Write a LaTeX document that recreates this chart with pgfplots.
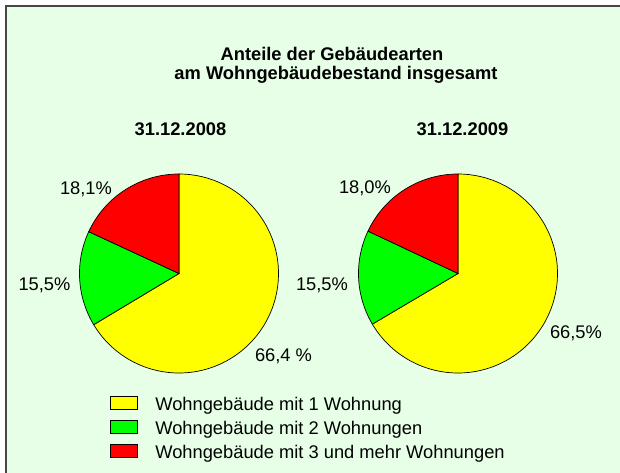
\documentclass[border=0pt]{standalone}
\usepackage{pgfplots}
\pgfplotsset{compat=1.18}
\usepackage{pgfplotstable}
\usepackage{fontspec}
\setmainfont{Liberation Sans}
\definecolor{bg}{RGB}{230,255,230}
\definecolor{frame}{RGB}{70,70,70}
\definecolor{pieY}{RGB}{255,255,0}
\definecolor{pieG}{RGB}{0,255,0}
\definecolor{pieR}{RGB}{255,0,0}

% shares in percent: 1 Wohnung, 2 Wohnungen, 3 und mehr Wohnungen
\pgfplotstableread{
part  y2008 y2009
1     66.4  66.5
2     15.5  15.5
3     18.1  18.0
}\shares

\pgfplotstablegetelem{0}{y2008}\of\shares \let\aY\pgfplotsretval
\pgfplotstablegetelem{1}{y2008}\of\shares \let\aG\pgfplotsretval
\pgfplotstablegetelem{0}{y2009}\of\shares \let\bY\pgfplotsretval
\pgfplotstablegetelem{1}{y2009}\of\shares \let\bG\pgfplotsretval
\pgfmathsetmacro{\aYend}{90-3.6*\aY}
\pgfmathsetmacro{\aGend}{\aYend-3.6*\aG}
\pgfmathsetmacro{\bYend}{90-3.6*\bY}
\pgfmathsetmacro{\bGend}{\bYend-3.6*\bG}

\newcommand{\lbl}{\fontsize{18.3bp}{21bp}\selectfont}
\def\R{99.5}

\begin{document}
\begin{tikzpicture}
\useasboundingbox (0,0) rectangle (620bp,473bp);
\fill[white] (-5bp,-5bp) rectangle (625bp,478bp);
\fill[bg] (6bp,-5bp) rectangle (625bp,467bp);
\draw[frame,line width=1.3bp] (6bp,-5bp) -- (6bp,467bp) -- (625bp,467bp);
\begin{axis}[
  at={(0,0)}, anchor=south west,
  scale only axis, width=620bp, height=473bp,
  xmin=0, xmax=620, ymin=0, ymax=473, y dir=reverse,
  hide axis, clip=false,
  legend cell align=left,
  legend image code/.code={\draw[#1, line width=0.7bp] (0bp,-6.5bp) rectangle (27bp,6.5bp); \path[draw=none,fill=none] (0bp,0bp) (45bp,0bp);},
  legend style={at={(axis cs:110,393)}, anchor=north west, draw=none, fill=none,
    inner sep=0pt, outer sep=0pt, row sep=5bp,
    nodes={inner sep=0pt, text height=17bp, text depth=2bp, font=\lbl}},
]
% pie 2008
\addplot[fill=pieY, draw=black, line width=0.7bp, domain=\aYend:90, samples=150, forget plot]
  ({179+\R*cos(x)},{273.5-\R*sin(x)}) -- (axis cs:179,273.5) -- cycle;
\addplot[fill=pieG, draw=black, line width=0.7bp, domain=\aGend:\aYend, samples=60, forget plot]
  ({179+\R*cos(x)},{273.5-\R*sin(x)}) -- (axis cs:179,273.5) -- cycle;
\addplot[fill=pieR, draw=black, line width=0.7bp, domain=-270:\aGend, samples=60, forget plot]
  ({179+\R*cos(x)},{273.5-\R*sin(x)}) -- (axis cs:179,273.5) -- cycle;
% pie 2009
\addplot[fill=pieY, draw=black, line width=0.7bp, domain=\bYend:90, samples=150, forget plot]
  ({458+\R*cos(x)},{273.5-\R*sin(x)}) -- (axis cs:458,273.5) -- cycle;
\addplot[fill=pieG, draw=black, line width=0.7bp, domain=\bGend:\bYend, samples=60, forget plot]
  ({458+\R*cos(x)},{273.5-\R*sin(x)}) -- (axis cs:458,273.5) -- cycle;
\addplot[fill=pieR, draw=black, line width=0.7bp, domain=-270:\bGend, samples=60, forget plot]
  ({458+\R*cos(x)},{273.5-\R*sin(x)}) -- (axis cs:458,273.5) -- cycle;

\addlegendimage{fill=pieY}
\addlegendentry{Wohngebäude mit 1 Wohnung}
\addlegendimage{fill=pieG}
\addlegendentry{Wohngebäude mit 2 Wohnungen}
\addlegendimage{fill=pieR}
\addlegendentry{Wohngebäude mit 3 und mehr Wohnungen}

% titles
\node[anchor=base, font=\bfseries\lbl] at (axis cs:332,60.7) {Anteile der Gebäudearten};
\node[anchor=base, font=\bfseries\lbl] at (axis cs:336,79.3) {am Wohngebäudebestand insgesamt};
\node[anchor=base, font=\bfseries\lbl] at (axis cs:180.5,135) {31.12.2008};
\node[anchor=base, font=\bfseries\lbl] at (axis cs:462.5,135) {31.12.2009};
% slice labels
\node[anchor=base, font=\lbl] at (axis cs:86,194) {18,1\%};
\node[anchor=base, font=\lbl] at (axis cs:44.5,290) {15,5\%};
\node[anchor=base, font=\lbl] at (axis cs:283.5,361.7) {66,4 \%};
\node[anchor=base, font=\lbl] at (axis cs:365,193.3) {18,0\%};
\node[anchor=base, font=\lbl] at (axis cs:322,290) {15,5\%};
\node[anchor=base, font=\lbl] at (axis cs:576,338.3) {66,5\%};
\end{axis}
\end{tikzpicture}
\end{document}
